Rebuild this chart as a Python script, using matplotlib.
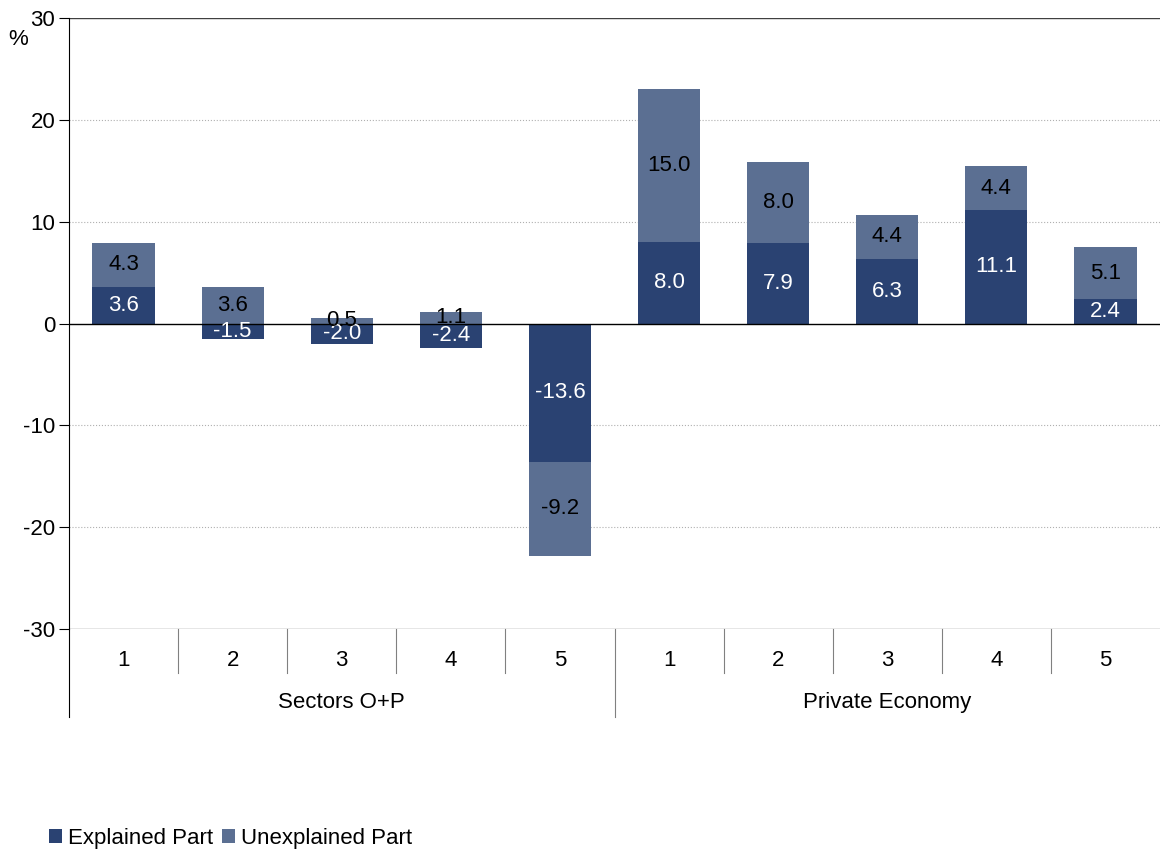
import matplotlib
matplotlib.use('Agg')
import matplotlib.pyplot as plt
import numpy as np

groups = ['Sectors O+P', 'Private Economy']
quintiles = ['1', '2', '3', '4', '5']
explained = [3.6, -1.5, -2.0, -2.4, -13.6, 8.0, 7.9, 6.3, 11.1, 2.4]
unexplained = [4.3, 3.6, 0.5, 1.1, -9.2, 15.0, 8.0, 4.4, 4.4, 5.1]

c_expl = '#2a4272'
c_unexpl = '#5b6f92'

plt.rcParams['font.family'] = ['Liberation Sans', 'DejaVu Sans']
plt.rcParams['axes.unicode_minus'] = False

fig = plt.figure(figsize=(11.6, 8.51), dpi=100)
ax = fig.add_axes([0.0595, 0.2609, 0.9405, 0.7179])

n = len(explained)
x = np.arange(n)
expl = np.array(explained)
unex = np.array(unexplained)
# positive and negative parts stack separately
bottom = np.where(np.sign(unex) == np.sign(expl), expl, 0.0)

w = 0.57
ax.bar(x, expl, w, color=c_expl, label='Explained Part', zorder=3)
ax.bar(x, unex, w, bottom=bottom, color=c_unexpl, label='Unexplained Part', zorder=3)

fs = 16
for i in range(n):
    ax.text(x[i], expl[i] / 2, f'{expl[i]:.1f}', ha='center', va='center',
            color='white', fontsize=fs, zorder=5)
    ax.text(x[i], bottom[i] + unex[i] / 2, f'{unex[i]:.1f}', ha='center', va='center',
            color='black', fontsize=fs, zorder=5)

ax.set_xlim(-0.5, n - 0.5)
ax.set_ylim(-30, 30)
ax.set_yticks(range(-30, 31, 10))
ax.tick_params(axis='y', labelsize=fs, length=7, width=0.8, pad=3)
ax.set_xticks([])

for y in [-20, -10, 10, 20]:
    ax.axhline(y, color='#b0b0b0', lw=0.8, ls=':', zorder=1)
ax.axhline(0, color='black', lw=1.0, zorder=4)
ax.axhline(30, color='#404040', lw=1.0, zorder=1)
ax.axhline(-30, color='#808080', lw=1.0, zorder=1)

for s in ['top', 'right', 'bottom']:
    ax.spines[s].set_visible(False)
ax.spines['left'].set_color('black')

ax.text(-0.047, 0.965, '%', transform=ax.transAxes, fontsize=fs, ha='center', va='center')

# two-level category axis
trans = ax.get_xaxis_transform()
for i in range(n):
    ax.text(x[i], -0.051, quintiles[i % 5], transform=trans, ha='center', va='center', fontsize=fs)
for j in range(1, n):
    depth = -0.144 if j % 5 == 0 else -0.072
    ax.plot([j - 0.5, j - 0.5], [0, depth], transform=trans, color='#808080',
            lw=0.8, clip_on=False)
ax.plot([-0.5, -0.5], [0, -0.144], transform=trans, color='black', lw=0.8, clip_on=False)
for g, name in enumerate(groups):
    ax.text(g * 5 + 2, -0.12, name, transform=trans, ha='center', va='center', fontsize=fs)

ax.legend(loc='center left', bbox_to_anchor=(0.042, 0.015), bbox_transform=fig.transFigure,
          ncol=2, frameon=False, fontsize=fs, handlelength=0.6, handleheight=0.6,
          handletextpad=0.25, columnspacing=0.4, borderaxespad=0, borderpad=0)

fig.savefig('out.png', dpi=100)
